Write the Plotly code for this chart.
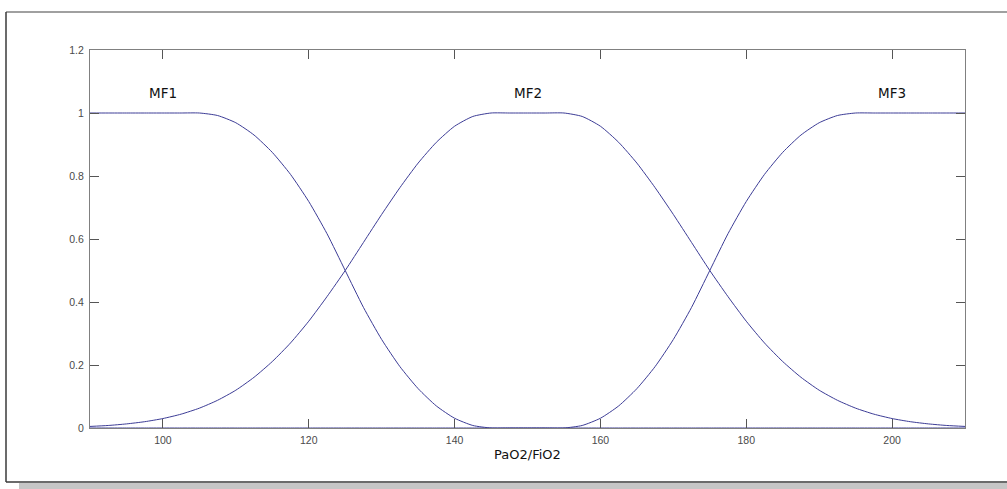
import plotly.graph_objects as go

# Input variable: PaO2/FiO2 ratio, sampled every 2.5 units
pao2_fio2 = [90 + 2.5 * i for i in range(49)]

# Membership grades read for each fuzzy set
mf1 = [1, 1, 1, 1, 1, 1, 1, 0.992, 0.969, 0.930, 0.875, 0.805, 0.719, 0.617,
       0.5, 0.383, 0.281, 0.195, 0.125, 0.070, 0.031, 0.008, 0,
       0, 0, 0, 0, 0, 0, 0, 0, 0, 0, 0, 0, 0, 0, 0, 0, 0, 0, 0, 0, 0, 0, 0, 0, 0, 0]

mf2 = [0.005, 0.008, 0.013, 0.020, 0.030, 0.044, 0.063, 0.088, 0.120, 0.161,
       0.211, 0.270, 0.339, 0.417, 0.5, 0.589, 0.678, 0.763, 0.841, 0.907,
       0.958, 0.989, 1, 1, 1, 1, 1, 0.989, 0.958, 0.907, 0.841, 0.763, 0.678,
       0.589, 0.5, 0.417, 0.339, 0.270, 0.211, 0.161, 0.120, 0.088, 0.063,
       0.044, 0.030, 0.020, 0.013, 0.008, 0.005]

mf3 = [0, 0, 0, 0, 0, 0, 0, 0, 0, 0, 0, 0, 0, 0, 0, 0, 0, 0, 0, 0, 0, 0, 0, 0, 0, 0,
       0, 0.008, 0.031, 0.070, 0.125, 0.195, 0.281, 0.383, 0.5, 0.617, 0.719,
       0.805, 0.875, 0.930, 0.969, 0.992, 1, 1, 1, 1, 1, 1, 1]

mf_names = ["MF1", "MF2", "MF3"]
mf_label_x = [100, 150, 200]
mf_label_y = 1.065

x_ticks = [100, 120, 140, 160, 180, 200]
y_ticks = [0, 0.2, 0.4, 0.6, 0.8, 1, 1.2]
y_tick_text = ["0", "0.2", "0.4", "0.6", "0.8", "1", "1.2"]

LINE = "#3c3c96"
W, H = 1007, 489
L, R, T, B = 90, 965, 50, 428   # plot area in pixels


def px_x(p):
    return (p - L) / (R - L)


def px_y(p):
    return (B - p) / (B - T)


fig = go.Figure()
for name, vals in zip(mf_names, [mf1, mf2, mf3]):
    fig.add_trace(go.Scatter(
        x=pao2_fio2, y=vals, mode="lines", name=name,
        line=dict(color=LINE, width=1, shape="spline", smoothing=0.6),
        hoverinfo="x+y+name",
    ))

for name, xl in zip(mf_names, mf_label_x):
    fig.add_annotation(x=xl, y=mf_label_y, xref="x", yref="y", text=name,
                       showarrow=False, xanchor="center", yanchor="middle",
                       font=dict(family="DejaVu Sans", size=13.5, color="#111111"))

tick_font = dict(family="Liberation Sans, Arial", size=10.5, color="#4a4a4a")
axis_common = dict(
    showgrid=False, zeroline=False, showline=True, linecolor="#808080",
    linewidth=1, mirror="ticks", ticks="inside", ticklen=9, tickcolor="#555555",
    tickwidth=1, tickfont=tick_font,
)

fig.update_layout(
    width=W, height=H,
    margin=dict(l=L, r=W - R, t=T, b=H - B),
    paper_bgcolor="white", plot_bgcolor="white",
    showlegend=False,
    xaxis=dict(range=[90, 210], tickvals=x_ticks, ticklabelstandoff=2,
               title=dict(text="PaO2/FiO2", standoff=5,
                          font=dict(family="DejaVu Sans", size=13, color="#111111")),
               **axis_common),
    yaxis=dict(range=[0, 1.2], tickvals=y_ticks, ticktext=y_tick_text,
               ticklabelstandoff=3, **axis_common),
)

# Figure window frame with its drop shadow
x0, x1 = px_x(6), px_x(1060)
ytop, ybot = px_y(12), px_y(482)
fig.add_shape(type="rect", xref="paper", yref="paper", x0=px_x(19), x1=px_x(1060),
              y0=px_y(490), y1=px_y(483), fillcolor="#c6c6c6", line=dict(width=0), layer="below")
fig.add_shape(type="line", xref="paper", yref="paper", x0=x0, x1=x1, y0=ytop, y1=ytop,
              line=dict(color="#808080", width=1.5))
fig.add_shape(type="line", xref="paper", yref="paper", x0=x0, x1=x0, y0=ytop, y1=ybot,
              line=dict(color="#3a3a3a", width=1.5))
fig.add_shape(type="line", xref="paper", yref="paper", x0=x0, x1=x1, y0=ybot, y1=ybot,
              line=dict(color="#3a3a3a", width=1.5))

fig.write_html("out.html")
